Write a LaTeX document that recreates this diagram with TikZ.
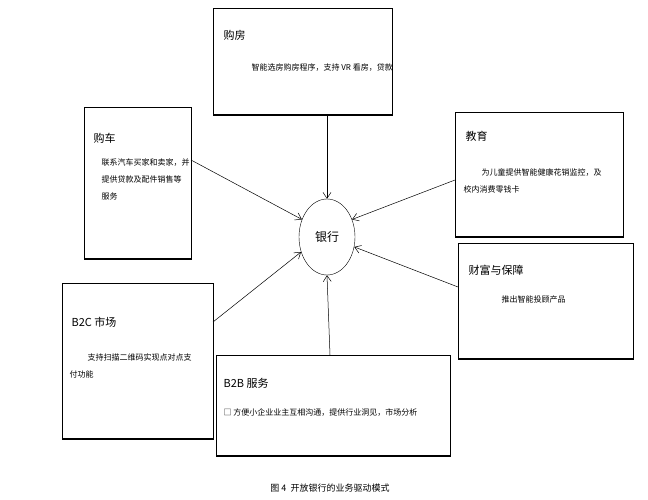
\documentclass[tikz,border=0pt]{standalone}
\usepackage{fontspec}
\setmainfont{Liberation Serif}
\newfontfamily\cjk{Noto Sans CJK SC}
\usetikzlibrary{arrows.meta,shapes.geometric}
\begin{document}
\begin{tikzpicture}[x=1pt,y=-1pt,
  bx/.style={draw,line width=0.6pt},
  arr/.style={draw,line width=0.5pt,-{Straight Barb[length=6pt,width=8pt]}},
  ttl/.style={anchor=west,font=\cjk\fontsize{11}{13}\selectfont},
  txt/.style={anchor=north west,font=\cjk\fontsize{8}{17}\selectfont,align=left}]
\useasboundingbox (0,0) rectangle (648,500);
\fill[white] (0,0) rectangle (648,500);
% boxes
\node[bx,minimum width=179pt,minimum height=106pt,anchor=north west] (h) at (213,8) {};
\node[bx,minimum width=107pt,minimum height=151pt,anchor=north west] (c) at (84,107) {};
\node[bx,minimum width=168pt,minimum height=124pt,anchor=north west] (e) at (455,112) {};
\node[bx,minimum width=175pt,minimum height=115pt,anchor=north west] (w) at (458,243) {};
\node[bx,minimum width=151pt,minimum height=155pt,anchor=north west] (b2c) at (62,283) {};
\node[bx,minimum width=234pt,minimum height=100pt,anchor=north west] (b2b) at (216,355) {};
\foreach \n in {h,c,e,w,b2c,b2b}{\draw[line width=2pt] (\n.south west) -- (\n.south east);}
\node[draw,ellipse,minimum width=56pt,minimum height=76pt] (bank) at (327,237) {};
\node[font=\cjk\fontsize{12}{14}\selectfont] at (bank) {银行};
% texts
\node[ttl] at (220,35) {购房};
\node[txt] at (248,60) {智能选房购房程序，支持 VR 看房，贷款};
\node[ttl] at (90,138) {购车};
\node[txt] at (98,155) {联系汽车买家和卖家，并\\提供贷款及配件销售等\\服务};
\node[ttl] at (462,136) {教育};
\node[txt] at (460,165) {\hspace{18pt}为儿童提供智能健康花销监控，及\\校内消费零钱卡};
\node[ttl] at (465,270) {财富与保障};
\node[txt] at (498,292) {推出智能投顾产品};
\node[ttl] at (68,322) {B2C 市场};
\node[txt] at (66,350) {\hspace{18pt}支持扫描二维码实现点对点支\\付功能};
\node[ttl] at (220,383) {B2B 服务};
\node[txt] at (220,405) {□ 方便小企业业主互相沟通，提供行业洞见，市场分析};
\node[font=\cjk\fontsize{9}{11}\selectfont] (cap) at (330,488) {图 4\ \ 开放银行的业务驱动模式};
% arrows
\draw[arr] (h.south -| bank) -- (bank.north);
\draw[arr] (191,160) -- (bank.145);
\draw[arr] (455,180) -- (bank.35);
\draw[arr] (458,287) -- (bank.-20);
\draw[arr] (213,322) -- (bank.-150);
\draw[arr] (330,355) -- (bank.south);
\end{tikzpicture}
\end{document}
